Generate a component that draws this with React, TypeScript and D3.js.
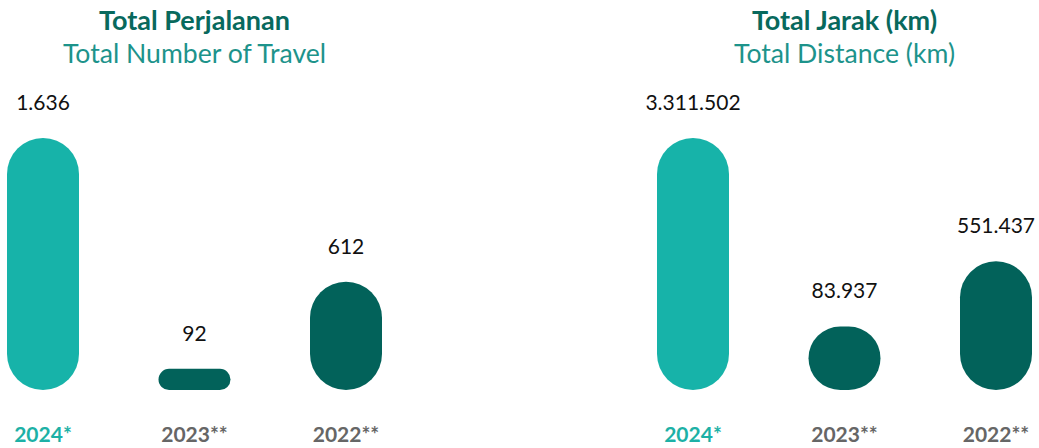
import React from "react";
import * as d3 from "d3";

const years = ["2024*", "2023**", "2022**"];
const travelValues = [1636, 92, 612];
const distanceValues = [3311502, 83937, 551437];
const panelTitles = ["Total Perjalanan", "Total Jarak (km)"];
const panelSubtitles = ["Total Number of Travel", "Total Distance (km)"];
const panelExponents = [0.86, 0.375];

const W = 1039;
const H = 448;
const BASE = 390;
const MAXH = 252;
const BAR_W = 72;
const TEAL = "#17b3a9";
const DARK = "#02625a";
const FONT = "Lato, 'Open Sans', sans-serif";

const fmt = (v: number) => {
  const s = Math.round(v).toString();
  return s.replace(/\B(?=(\d{3})+(?!\d))/g, ".");
};

function Panel({ values, title, subtitle, exponent, x0, x1 }: any) {
  const x = d3.scalePoint<string>().domain(years).range([x0, x1]);
  const h = d3.scalePow().exponent(exponent).domain([0, d3.max(values) as number]).range([0, MAXH]);
  const cx = x(years[1]) as number;
  return (
    <g>
      <text x={cx} y={30} textAnchor="middle" fontFamily={FONT} fontWeight={700} fontSize={27} fill="#08695d">
        {title}
      </text>
      <text x={cx} y={63} textAnchor="middle" fontFamily={FONT} fontWeight={400} fontSize={26.6} fill="#1d938b">
        {subtitle}
      </text>
      {values.map((v: number, i: number) => {
        const bh = h(v);
        const bx = (x(years[i]) as number) - BAR_W / 2;
        const r = Math.min(BAR_W, bh) / 2;
        const color = i === 0 ? TEAL : DARK;
        return (
          <g key={i}>
            <rect x={bx} y={BASE - bh} width={BAR_W} height={bh} rx={r} ry={r} fill={color} />
            <text x={bx + BAR_W / 2} y={BASE - bh - 28} textAnchor="middle" fontFamily={FONT} fontSize={21} fill="#111">
              {fmt(v)}
            </text>
            <text x={bx + BAR_W / 2} y={442} textAnchor="middle" fontFamily={FONT} fontWeight={700} fontSize={21} fill={i === 0 ? "#1db1a6" : "#666666"}>
              {years[i]}
            </text>
          </g>
        );
      })}
    </g>
  );
}

export default function App() {
  return (
    <svg width={W} height={H} style={{ position: "absolute", left: 0, top: 0, background: "#fff" }}>
      <rect width={W} height={H} fill="#fff" />
      <Panel values={travelValues} title={panelTitles[0]} subtitle={panelSubtitles[0]} exponent={panelExponents[0]} x0={43} x1={346} />
      <Panel values={distanceValues} title={panelTitles[1]} subtitle={panelSubtitles[1]} exponent={panelExponents[1]} x0={693} x1={996} />
    </svg>
  );
}
